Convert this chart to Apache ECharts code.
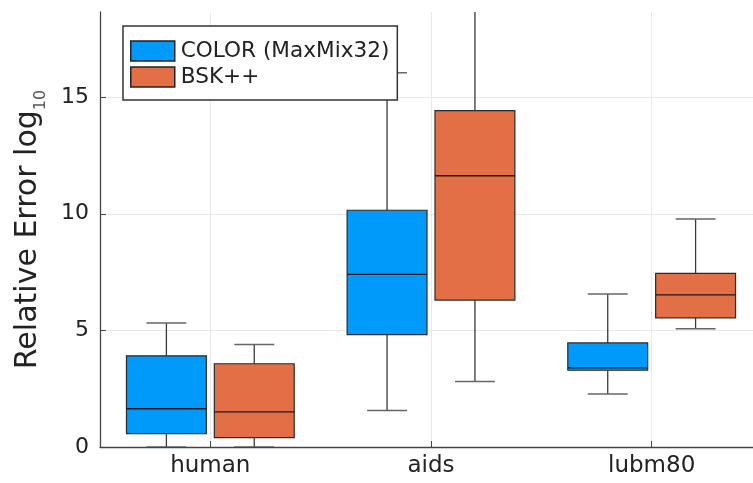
<!DOCTYPE html>
<html>
<head>
<meta charset="utf-8">
<script src="https://cdn.jsdelivr.net/npm/echarts@6/dist/echarts.min.js"></script>
<style>html,body{margin:0;padding:0;background:#fff}#c{width:753px;height:483px}</style>
</head>
<body>
<div id="c"></div>
<script>
const categories = ['human', 'aids', 'lubm80'];
const seriesNames = ['COLOR (MaxMix32)', 'BSK++'];
// [min, q1, median, q3, max] per category
const colorBoxes = [
  [0.0, 0.57, 1.64, 3.91, 5.32],
  [1.56, 4.82, 7.40, 10.15, 16.05],
  [2.27, 3.29, 3.39, 4.46, 6.56]
];
const bskBoxes = [
  [0.0, 0.40, 1.51, 3.57, 4.39],
  [2.81, 6.30, 11.63, 14.42, 19.5],
  [5.07, 5.54, 6.52, 7.44, 9.78]
];
const yTicks = [0, 5, 10, 15];
const yMax = 18.65;

const colors = ['#009AFA', '#E26F46'];
const FONT = 'DejaVu Sans';

function toData(boxes) {
  return boxes.map((b, i) => [i].concat(b));
}

function renderItem(params, api) {
  const cat = api.value(0);
  const mn = api.value(1), q1 = api.value(2), md = api.value(3), q3 = api.value(4), mx = api.value(5);
  const bw = api.size([1, 0])[0];
  const off = (params.seriesIndex === 0 ? -1 : 1) * bw * 44 / 221;
  const w = bw * 80 / 221;
  const cap = w / 2;
  const cx = api.coord([cat, 0])[0] + off;
  const y = v => api.coord([cat, v])[1];
  const wStyle = { stroke: '#3a3a3a', lineWidth: 1.3 };
  const fill = colors[params.seriesIndex];
  return {
    type: 'group',
    children: [
      { type: 'line', shape: { x1: cx, y1: y(q3), x2: cx, y2: y(mx) }, style: wStyle },
      { type: 'line', shape: { x1: cx, y1: y(q1), x2: cx, y2: y(mn) }, style: wStyle },
      { type: 'line', shape: { x1: cx - cap / 2, y1: y(mx), x2: cx + cap / 2, y2: y(mx) }, style: { stroke: '#666', lineWidth: 1.5 } },
      { type: 'line', shape: { x1: cx - cap / 2, y1: y(mn), x2: cx + cap / 2, y2: y(mn) }, style: { stroke: '#666', lineWidth: 1.5 } },
      { type: 'rect', shape: { x: cx - w / 2, y: y(q3), width: w, height: y(q1) - y(q3) }, style: { fill: fill, stroke: '#2a2a2a', lineWidth: 1.2 } },
      { type: 'line', shape: { x1: cx - w / 2, y1: y(md), x2: cx + w / 2, y2: y(md) }, style: { stroke: '#1a1a1a', lineWidth: 1.3 } }
    ]
  };
}

const chart = echarts.init(document.getElementById('c'));
chart.setOption({
  animation: false,
  color: colors,
  textStyle: { fontFamily: FONT },
  grid: { left: 100, right: -9, top: 12, bottom: 36, containLabel: false, outerBoundsMode: 'none' },
  legend: {
    data: seriesNames,
    orient: 'vertical',
    left: 123, top: 26,
    padding: [14, 8, 12, 7],
    itemGap: 4,
    itemWidth: 44, itemHeight: 20,
    icon: 'rect',
    backgroundColor: '#fff',
    borderColor: '#333', borderWidth: 1.5, borderRadius: 0,
    itemStyle: { borderColor: '#222', borderWidth: 1.5 },
    textStyle: { fontFamily: FONT, fontSize: 21.6, color: '#222', padding: [0, 0, 0, 1] }
  },
  xAxis: {
    type: 'category',
    data: categories,
    boundaryGap: true,
    axisLine: { show: true, lineStyle: { color: '#444', width: 1.3 } },
    axisTick: { show: true, inside: true, alignWithLabel: true, length: 6, lineStyle: { color: '#444' } },
    axisLabel: { fontFamily: FONT, fontSize: 23, color: '#222', margin: 8 },
    splitLine: { show: true, alignWithLabel: true, lineStyle: { color: '#e8e8e8', width: 1 } }
  },
  yAxis: {
    type: 'value',
    min: 0, max: yMax, interval: 5,
    axisLine: { show: true, lineStyle: { color: '#444', width: 1.3 } },
    axisTick: { show: true, inside: true, length: 6, lineStyle: { color: '#444' }, customValues: yTicks },
    axisLabel: {
      fontFamily: FONT, fontSize: 22, color: '#222', margin: 11,
      customValues: yTicks
    },
    splitLine: { show: true, lineStyle: { color: '#e8e8e8', width: 1 } },
    name: '{a|Relative Error log}{b|10}',
    nameLocation: 'middle',
    nameGap: 57,
    nameRotate: 90,
    nameTextStyle: {
      rich: {
        a: { fontFamily: FONT, fontSize: 30, color: '#222', lineHeight: 34, verticalAlign: 'bottom' },
        b: { fontFamily: FONT, fontSize: 16, color: '#555', lineHeight: 34, verticalAlign: 'bottom', padding: [0, 0, -6, 0] }
      }
    }
  },
  series: [
    {
      name: seriesNames[0], type: 'custom', renderItem: renderItem, clip: true,
      itemStyle: { color: colors[0] },
      encode: { x: 0, y: [1, 2, 3, 4, 5] },
      data: toData(colorBoxes), z: 2
    },
    {
      name: seriesNames[1], type: 'custom', renderItem: renderItem, clip: true,
      itemStyle: { color: colors[1] },
      encode: { x: 0, y: [1, 2, 3, 4, 5] },
      data: toData(bskBoxes), z: 2
    }
  ]
});
</script>
</body>
</html>
